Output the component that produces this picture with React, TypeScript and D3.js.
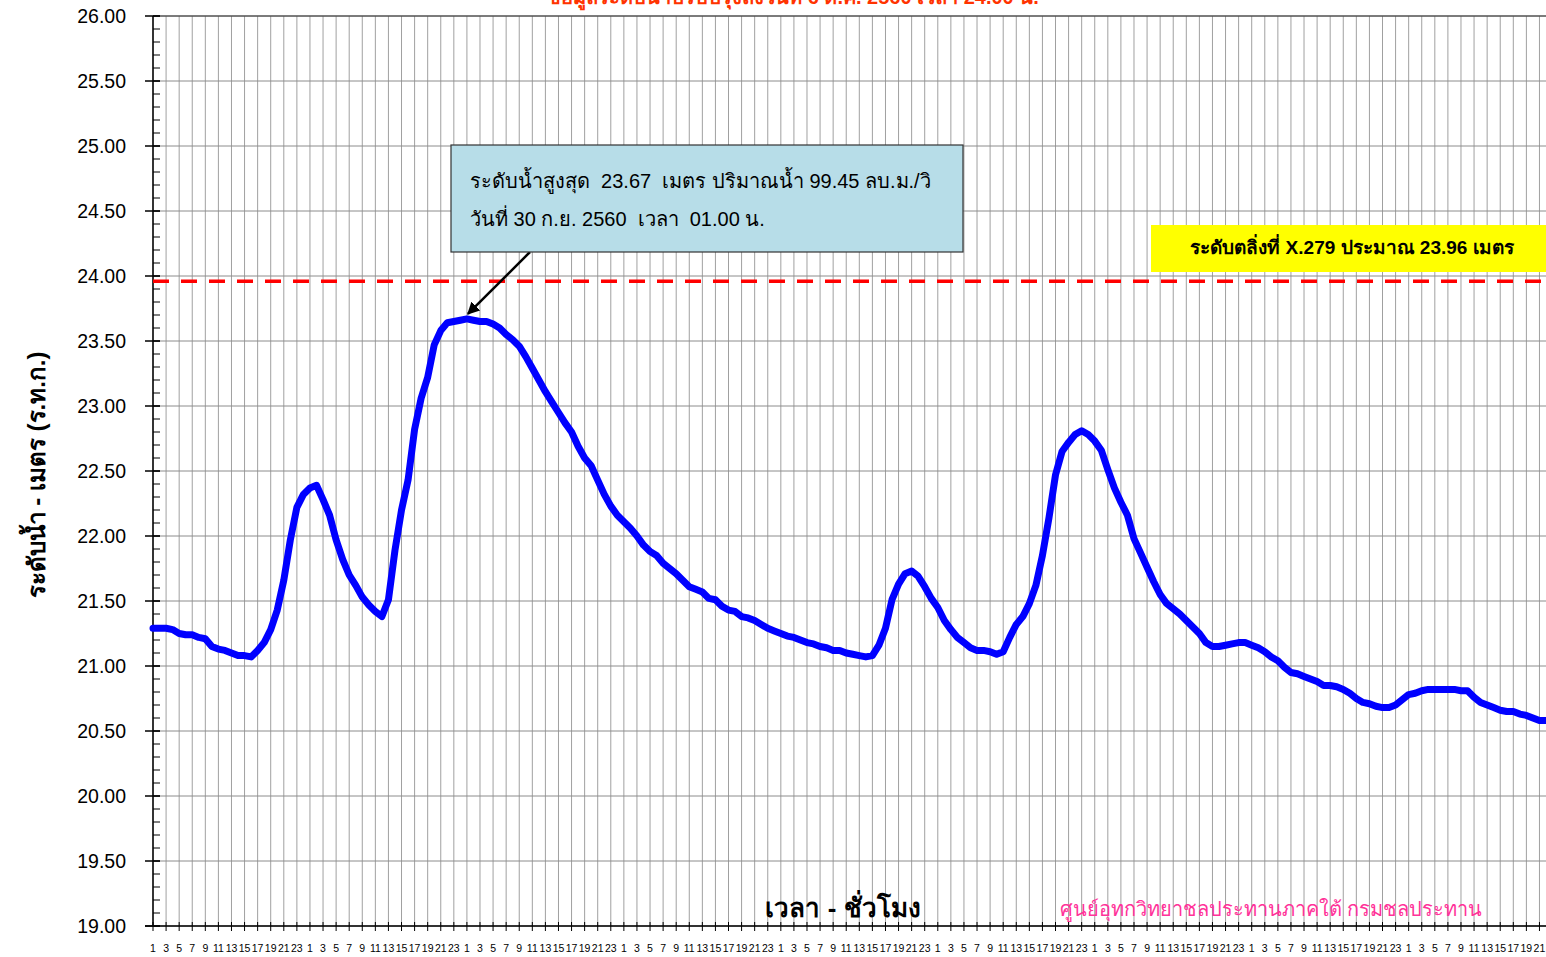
import * as d3 from "d3";

// hourly water level (m, MSL) starting 28 Sep 2560 01:00
const levels = [
  21.29, 21.29, 21.29, 21.28, 21.25, 21.24, 21.24, 21.22, 21.21, 21.15,
  21.13, 21.12, 21.1, 21.08, 21.08, 21.07, 21.12, 21.18, 21.28, 21.43,
  21.66, 21.97, 22.22, 22.32, 22.37, 22.39, 22.28, 22.16, 21.97, 21.82,
  21.7, 21.62, 21.53, 21.47, 21.42, 21.38, 21.51, 21.89, 22.2, 22.43,
  22.82, 23.06, 23.22, 23.47, 23.58, 23.64, 23.65, 23.66, 23.67, 23.66,
  23.65, 23.65, 23.63, 23.6, 23.55, 23.51, 23.46, 23.38, 23.29, 23.2,
  23.11, 23.03, 22.95, 22.87, 22.8, 22.69, 22.6, 22.54, 22.43, 22.32,
  22.23, 22.16, 22.11, 22.06, 22.0, 21.93, 21.88, 21.85, 21.79, 21.75,
  21.71, 21.66, 21.61, 21.59, 21.57, 21.52, 21.51, 21.46, 21.43, 21.42,
  21.38, 21.37, 21.35, 21.32, 21.29, 21.27, 21.25, 21.23, 21.22, 21.2,
  21.18, 21.17, 21.15, 21.14, 21.12, 21.12, 21.1, 21.09, 21.08, 21.07,
  21.08, 21.16, 21.29, 21.51, 21.63, 21.71, 21.73, 21.69, 21.61, 21.52,
  21.45, 21.35, 21.28, 21.22, 21.18, 21.14, 21.12, 21.12, 21.11, 21.09,
  21.11, 21.22, 21.32, 21.38, 21.48, 21.62, 21.85, 22.14, 22.47, 22.65,
  22.72, 22.78, 22.81, 22.78, 22.73, 22.66, 22.51, 22.37, 22.26, 22.16,
  21.98, 21.87, 21.76, 21.65, 21.55, 21.48, 21.44, 21.4, 21.35, 21.3,
  21.25, 21.18, 21.15, 21.15, 21.16, 21.17, 21.18, 21.18, 21.16, 21.14,
  21.11, 21.07, 21.04, 20.99, 20.95, 20.94, 20.92, 20.9, 20.88, 20.85,
  20.85, 20.84, 20.82, 20.79, 20.75, 20.72, 20.71, 20.69, 20.68, 20.68,
  20.7, 20.74, 20.78, 20.79, 20.81, 20.82, 20.82, 20.82, 20.82, 20.82,
  20.81, 20.81, 20.76, 20.72, 20.7, 20.68, 20.66, 20.65, 20.65, 20.63,
  20.62, 20.6, 20.58, 20.58,
];

const hourLabels = levels.map((_, i) => String((i % 24) + 1));
const yTicks = d3.range(19, 26.001, 0.5);
const yMinor = d3.range(19, 26.001, 0.1);
const bankLevel = 23.96;
const peakIndex = 48;

const title = "ข้อมูลระดับน้ำปรับปรุงถึงวันที่ 6 ต.ค. 2560 เวลา 24.00 น.";
const peakLine1 = "ระดับน้ำสูงสุด  23.67  เมตร ปริมาณน้ำ 99.45 ลบ.ม./วิ";
const peakLine2 = "วันที่ 30 ก.ย. 2560  เวลา  01.00 น.";
const bankText = "ระดับตลิ่งที่ X.279 ประมาณ 23.96 เมตร";
const yTitle = "ระดับน้ำ - เมตร (ร.ท.ก.)";
const xTitle = "เวลา - ชั่วโมง";
const credit = "ศูนย์อุทกวิทยาชลประทานภาคใต้ กรมชลประทาน";

export default function App() {
  const width = 1546;
  const height = 957;
  const left = 153;
  const right = 1546;
  const top = 16;
  const bottom = 926;
  const font = "'Liberation Sans', Arial, sans-serif";

  const x = d3.scaleLinear().domain([0, levels.length - 1]).range([left, right]);
  const y = d3.scaleLinear().domain([19, 26]).range([bottom, top]);

  const line = d3
    .line<number>()
    .x((_, i) => x(i))
    .y((d) => y(d))
    .curve(d3.curveLinear);

  const labelIdx = levels.map((_, i) => i).filter((i) => i % 2 === 0);

  const px = x(peakIndex);
  const py = y(levels[peakIndex]);

  return (
    <svg
      width={width}
      height={height}
      style={{ position: "absolute", left: 0, top: 0, background: "#fff" }}
      fontFamily={font}
    >
      <defs>
        <marker id="arr" viewBox="0 0 10 10" refX="9" refY="5" markerWidth="5" markerHeight="5" orient="auto">
          <path d="M0,0 L10,5 L0,10 z" fill="#000" />
        </marker>
      </defs>

      {/* vertical grid */}
      {labelIdx.map((i) => (
        <line key={"v" + i} x1={x(i)} x2={x(i)} y1={top} y2={bottom} stroke="#a0a0a0" strokeWidth={1} />
      ))}
      {/* horizontal grid */}
      {yTicks.map((t) => (
        <line key={"h" + t} x1={left} x2={right} y1={y(t)} y2={y(t)} stroke="#8c8c8c" strokeWidth={1} />
      ))}
      <line x1={left} x2={right} y1={top} y2={top} stroke="#333" strokeWidth={1} />

      {/* axes */}
      <line x1={left} x2={left} y1={top} y2={bottom} stroke="#000" strokeWidth={1.5} />
      <line x1={left - 8} x2={right} y1={bottom} y2={bottom} stroke="#000" strokeWidth={1.5} />
      {yMinor.map((t) => (
        <line key={"m" + t} x1={left} x2={left + 7} y1={y(t)} y2={y(t)} stroke="#000" strokeWidth={1} />
      ))}
      {yTicks.map((t) => (
        <g key={"yt" + t}>
          <line x1={left - 8} x2={left + 7} y1={y(t)} y2={y(t)} stroke="#000" strokeWidth={1.5} />
          <text x={126} y={y(t)} dy="0.35em" textAnchor="end" fontSize={19.5} fill="#000">
            {t.toFixed(2)}
          </text>
        </g>
      ))}
      {labelIdx.map((i) => (
        <g key={"xt" + i}>
          <line x1={x(i)} x2={x(i)} y1={bottom - 4} y2={bottom + 5} stroke="#000" strokeWidth={1} />
          <text x={x(i)} y={952} textAnchor="middle" fontSize={10.5} fill="#000">
            {hourLabels[i]}
          </text>
        </g>
      ))}

      {/* bank level */}
      <line
        x1={left}
        x2={right}
        y1={y(bankLevel)}
        y2={y(bankLevel)}
        stroke="#ff0000"
        strokeWidth={3.5}
        strokeDasharray="16 12"
      />

      {/* water level series */}
      <path d={line(levels) ?? ""} fill="none" stroke="#0000ff" strokeWidth={7} strokeLinejoin="round" strokeLinecap="round" />

      {/* title (partly off-page, as in the source) */}
      <text x={793} y={4} textAnchor="middle" fontSize={20} fontWeight="bold" fill="#ff3300">
        {title}
      </text>

      {/* peak annotation */}
      <line x1={530} y1={252} x2={px + 1} y2={py - 5} stroke="#000" strokeWidth={2.5} markerEnd="url(#arr)" />
      <rect x={451} y={145} width={512} height={107} fill="#b7dde8" stroke="#333" strokeWidth={1.2} />
      <text x={470} y={188} fontSize={20} fill="#000" style={{ whiteSpace: "pre" }}>{peakLine1}</text>
      <text x={470} y={226} fontSize={20} fill="#000" style={{ whiteSpace: "pre" }}>{peakLine2}</text>

      {/* bank annotation */}
      <rect x={1151} y={225} width={400} height={47} fill="#ffff00" />
      <text x={1352} y={254} textAnchor="middle" fontSize={19} fontWeight="bold" fill="#000">
        {bankText}
      </text>

      {/* axis titles */}
      <text
        transform={`translate(45,${475}) rotate(-90)`}
        textAnchor="middle"
        fontSize={24}
        fontWeight="bold"
        fill="#000"
      >
        {yTitle}
      </text>
      <text x={843} y={917} textAnchor="middle" fontSize={26} fontWeight="bold" fill="#000">
        {xTitle}
      </text>
      <text x={1271} y={916} textAnchor="middle" fontSize={20} fill="#ff3399">
        {credit}
      </text>
    </svg>
  );
}
